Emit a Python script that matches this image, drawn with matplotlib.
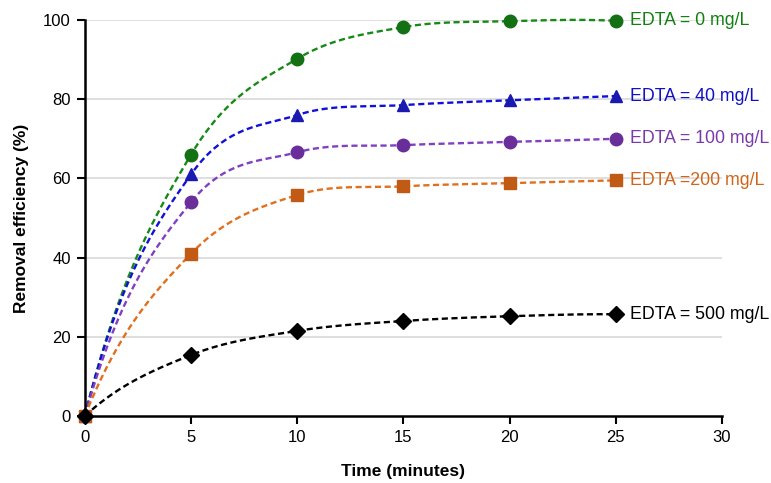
import numpy as np
import matplotlib
matplotlib.use("Agg")
import matplotlib.pyplot as plt

plt.rcParams['font.family'] = ['Liberation Sans', 'DejaVu Sans']

time_min = [0, 5, 10, 15, 20, 25]
edta_0 = [0, 66.0, 90.2, 98.2, 99.7, 99.8]
edta_40 = [0, 61.0, 76.0, 78.5, 79.7, 80.8]
edta_100 = [0, 54.0, 66.6, 68.4, 69.2, 70.0]
edta_200 = [0, 41.0, 55.8, 58.0, 58.8, 59.5]
edta_500 = [0, 15.4, 21.5, 24.0, 25.2, 25.7]
labels = ["EDTA = 0 mg/L", "EDTA = 40 mg/L", "EDTA = 100 mg/L", "EDTA =200 mg/L", "EDTA = 500 mg/L"]
x_ticks = [0, 5, 10, 15, 20, 25, 30]
y_ticks = [0, 20, 40, 60, 80, 100]

series = [edta_0, edta_40, edta_100, edta_200, edta_500]
line_colors = ['#168a16', '#1010d8', '#8040c0', '#e0701e', '#000000']
marker_face = ['#137013', '#1a1ab0', '#6a2e9a', '#c05a14', '#000000']
text_colors = ['#108010', '#1010c8', '#7a3aaa', '#d06418', '#000000']
markers = ['o', '^', 'o', 's', 'D']
msizes = [9, 9, 9, 8.5, 8.5]


def smooth(x, y, n=40):
    # Excel-like smoothed line: cubic Hermite through the points
    x = np.asarray(x, float); y = np.asarray(y, float)
    k = len(x)
    m = np.zeros(k)
    for i in range(1, k - 1):
        m[i] = (y[i + 1] - y[i - 1]) / (x[i + 1] - x[i - 1])
    c0 = (y[1] - y[0]) / (x[1] - x[0])
    m[0] = 3 * c0 - 2 * m[1]
    cn = (y[-1] - y[-2]) / (x[-1] - x[-2])
    m[-1] = 3 * cn - 2 * m[-2]
    xs, ys = [], []
    for i in range(k - 1):
        h = x[i + 1] - x[i]
        s = np.linspace(0, 1, n)
        if i > 0:
            s = s[1:]
        h00 = 2 * s**3 - 3 * s**2 + 1
        h10 = s**3 - 2 * s**2 + s
        h01 = -2 * s**3 + 3 * s**2
        h11 = s**3 - s**2
        xs.append(x[i] + s * h)
        ys.append(h00 * y[i] + h10 * h * m[i] + h01 * y[i + 1] + h11 * h * m[i + 1])
    return np.concatenate(xs), np.concatenate(ys)


fig = plt.figure(figsize=(7.71, 4.83), dpi=100)
ax = fig.add_axes([0.110, 0.1387, 0.8265, 0.8199])

for yv in y_ticks[1:]:
    ax.axhline(yv, color='#d9d9d9', lw=1.2, zorder=0)

for s, lc, mf, tc, mk, ms, lab in zip(series, line_colors, marker_face, text_colors, markers, msizes, labels):
    sx, sy = smooth(time_min, s)
    ax.plot(sx, sy, color=lc, lw=1.7, ls=(0, (2.6, 1.5)), zorder=2, clip_on=False)
    ax.plot(time_min, s, ls='none', marker=mk, ms=ms,
            mfc=mf, mec=mf, zorder=3, clip_on=False)
    ax.annotate(lab, xy=(time_min[-1], s[-1]), xytext=(10, 0), textcoords='offset points',
                va='center', ha='left', color=tc, fontsize=12.8, annotation_clip=False)

ax.set_xlim(0, 30)
ax.set_ylim(0, 100)
ax.set_xticks(x_ticks)
ax.set_yticks(y_ticks)
ax.tick_params(axis='both', direction='out', length=6, width=1.5, labelsize=12, pad=4)
for sp in ['top', 'right']:
    ax.spines[sp].set_visible(False)
for sp in ['left', 'bottom']:
    ax.spines[sp].set_linewidth(1.8)
ax.set_xlabel('Time (minutes)', fontsize=12.5, fontweight='bold', labelpad=14)
ax.set_ylabel('Removal efficiency (%)', fontsize=12.5, fontweight='bold', labelpad=10)

fig.savefig('out.png', dpi=100)
